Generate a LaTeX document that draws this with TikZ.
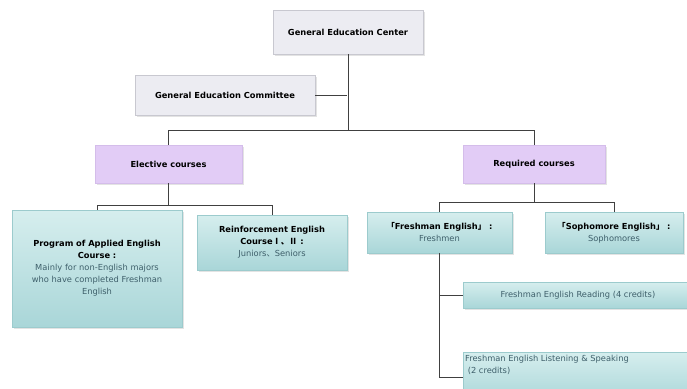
\documentclass[tikz,border=0pt]{standalone}
\usepackage{fontspec}
\setmainfont{DejaVu Sans}
\newfontfamily\cjk{Noto Sans CJK SC}
\usetikzlibrary{shadows}
\definecolor{graybox}{HTML}{ECECF2}
\definecolor{grayedge}{HTML}{C8C8D0}
\definecolor{purplebox}{HTML}{E2CCF6}
\definecolor{purpleedge}{HTML}{D4BDEA}
\definecolor{tealtop}{HTML}{D6EEEE}
\definecolor{tealbot}{HTML}{A9D6D8}
\definecolor{tealedge}{HTML}{9CCBCD}
\definecolor{subtext}{HTML}{3E5F6A}
\definecolor{linec}{HTML}{404040}
\tikzset{
  base/.style={draw, line width=0.6pt, inner sep=2pt, align=center,
    font=\fontsize{8.3}{12}\selectfont,
    drop shadow={shadow xshift=2pt, shadow yshift=-2pt, fill=black!18, opacity=0.6}},
  graynode/.style={base, fill=graybox, draw=grayedge, font=\fontsize{8.3}{12}\selectfont\bfseries},
  purplenode/.style={base, fill=purplebox, draw=purpleedge, font=\fontsize{8.3}{12}\selectfont\bfseries},
  tealnode/.style={base, top color=tealtop, bottom color=tealbot, draw=tealedge},
  link/.style={draw=linec, line width=0.6pt},
}
\begin{document}
\begin{tikzpicture}[x=1pt,y=-1pt]
\useasboundingbox (0,0) rectangle (687,388);
\fill[white] (0,0) rectangle (687,388);
\begin{scope}
\clip (0,0) rectangle (687,388);
\node[graynode, minimum width=150pt, minimum height=44pt] (center) at (348,32) {General Education Center};
\node[graynode, minimum width=180pt, minimum height=40pt] (committee) at (225,95) {General Education Committee};
\node[purplenode, minimum width=147pt, minimum height=38pt] (elective) at (168.5,164) {Elective courses};
\node[purplenode, minimum width=142pt, minimum height=38pt] (required) at (534,164) {Required courses};
\node[tealnode, minimum width=170pt, minimum height=117pt, text width=150pt] (program) at (97,268.5)
  {\textbf{Program of Applied English}\\\textbf{Course :}\\\textcolor{subtext}{Mainly for non-English majors}\\\textcolor{subtext}{who have completed Freshman}\\\textcolor{subtext}{English}};
\node[tealnode, minimum width=150pt, minimum height=55pt] (reinforce) at (272,242.5)
  {\textbf{Reinforcement English}\\\textbf{Course{\cjk Ⅰ、Ⅱ} :}\\\textcolor{subtext}{Juniors{\cjk 、}Seniors}};
\node[tealnode, minimum width=145pt, minimum height=41pt] (freshman) at (439.5,232.5)
  {\textbf{{\cjk 「}Freshman English{\cjk 」} :}\\\textcolor{subtext}{Freshmen}};
\node[tealnode, minimum width=138pt, minimum height=41pt] (sophomore) at (614,232.5)
  {\textbf{{\cjk 「}Sophomore English{\cjk 」} :}\\\textcolor{subtext}{Sophomores}};
\node[tealnode, minimum width=230pt, minimum height=26pt, text=subtext] (reading) at (578,295)
  {Freshman English Reading (4 credits)};
\node[tealnode, minimum width=230pt, minimum height=50pt, anchor=west] (listening) at (463,377)
  {};
\node[anchor=north west, inner sep=0pt, align=left, text=subtext, font=\fontsize{8.3}{12}\selectfont] (listentext) at (465,355)
  {Freshman English Listening \& Speaking\\\ (2 credits)};
\end{scope}
\coordinate (trunk) at (347,130);
\coordinate (ebar) at (168,205);
\coordinate (rbar) at (534,202);
\draw[link] (center.south) -- (center.south |- trunk);
\draw[link] (committee.east) -- (committee.east -| trunk);
\draw[link] (elective.north) -- (elective.north |- trunk) -- (required.north |- trunk) -- (required.north);
\draw[link] (elective.south) -- (elective.south |- ebar);
\draw[link] (program.north) -- (program.north |- ebar) -- (reinforce.north |- ebar) -- (reinforce.north);
\draw[link] (required.south) -- (required.south |- rbar);
\draw[link] (freshman.north) -- (freshman.north |- rbar) -- (sophomore.north |- rbar) -- (sophomore.north);
\draw[link] (freshman.south) |- (reading.west);
\draw[link] (freshman.south) |- (listening.west);
\end{tikzpicture}
\end{document}
